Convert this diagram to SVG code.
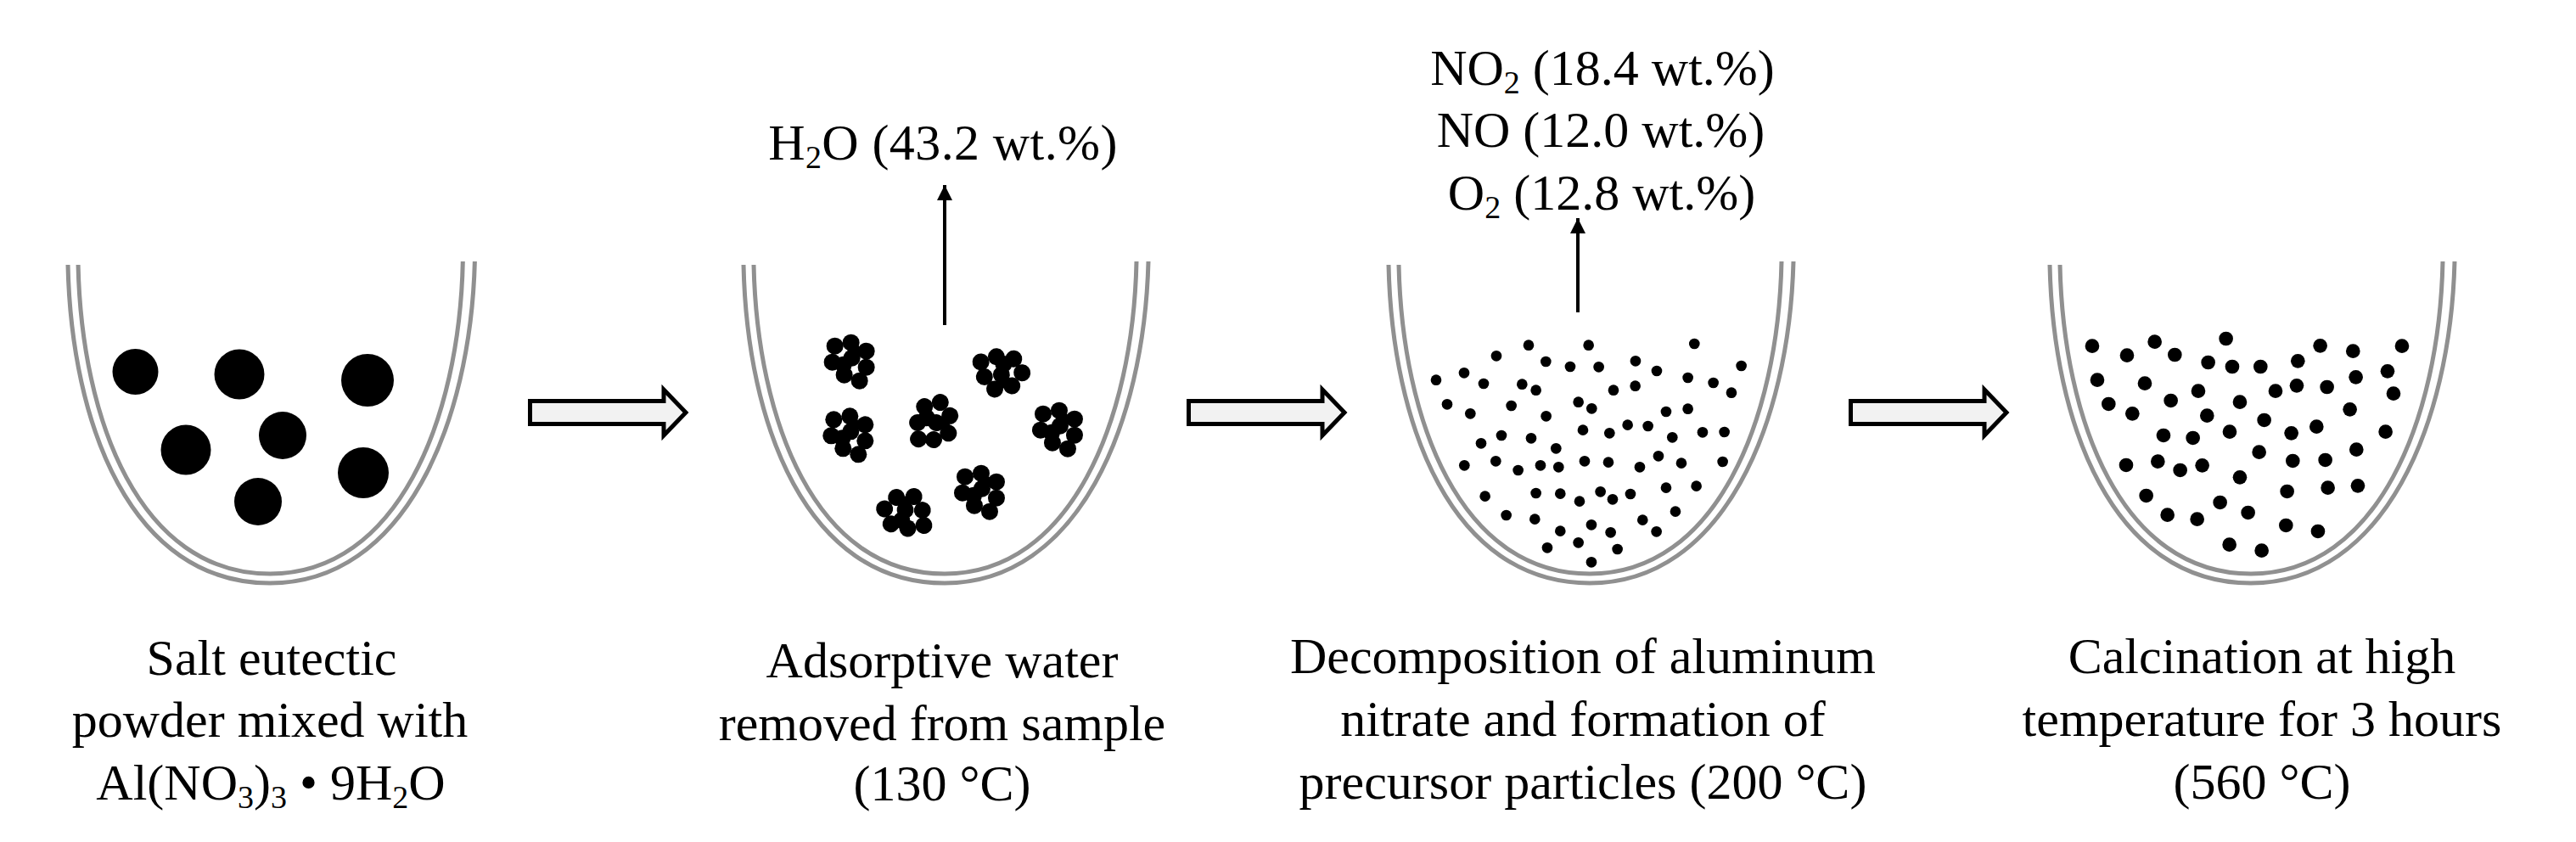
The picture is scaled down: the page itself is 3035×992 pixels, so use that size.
<svg xmlns="http://www.w3.org/2000/svg" width="3035" height="992" viewBox="0 0 3035 992">
<style>
text{font-family:"Liberation Serif","Times New Roman",serif;font-size:60px;fill:#000;text-anchor:middle}
.wall{fill:none;stroke:#909090;stroke-width:5}
.block{fill:#f2f2f2;stroke:#000;stroke-width:5}
.up{fill:none;stroke:#000;stroke-width:4;marker-end:url(#head)}
.d3 circle{r:19px}
.d4 circle{r:25px}
</style>
<defs>
<marker id="head" markerUnits="userSpaceOnUse" markerWidth="18" markerHeight="20" refX="18" refY="9" orient="auto"><path d="M0,0L18,9L0,18Z" fill="#000"/></marker>
<g id="beaker">
<path class="wall" d="M0,4C4,192 74,379 237,379C394,379 472,192 477,0"/>
<path class="wall" d="M12,4C16,187 84,368 237,368C386,368 459,187 463,0"/>
</g>
<g id="cluster">
<circle cx="-17" cy="-19" r="10"/><circle cx="2" cy="-23" r="10"/><circle cx="20" cy="-13" r="10"/><circle cx="20" cy="6" r="10"/><circle cx="12" cy="22" r="10"/><circle cx="-6" cy="15" r="10"/><circle cx="-20" cy="0" r="10"/><circle cx="3" cy="-5" r="10"/><circle cx="-7" cy="3" r="10"/><circle cx="10" cy="-13" r="6"/>
</g>
</defs>
<rect width="3035" height="992" fill="#fff"/>
<g id="connectors">
<path class="block" d="M624.500,472.500H782V459L808,486L782,513V499.500H624.500Z"/>
<path class="block" d="M1400.500,472.500H1558V459L1584,486L1558,513V499.500H1400.500Z"/>
<path class="block" d="M2180.500,472.500H2338V459L2364,486L2338,513V499.500H2180.500Z"/>
<path class="up" d="M1113,383V218"/>
<path class="up" d="M1859,368V257"/>
</g>
<g id="step1">
<use href="#beaker" transform="translate(80 308) scale(1.005 1)"/>
<circle cx="159.500" cy="438" r="27"/><circle cx="282" cy="441" r="29.500"/><circle cx="433" cy="448" r="31"/><circle cx="219" cy="530" r="29.500"/><circle cx="333" cy="513" r="28"/><circle cx="428" cy="557" r="30"/><circle cx="304" cy="591" r="28"/>
<text x="320" y="795">Salt eutectic</text>
<text x="318" y="868">powder mixed with</text>
<text x="319" y="942">Al(NO<tspan font-size="38" dy="10">3</tspan><tspan dy="-10">)</tspan><tspan font-size="38" dy="10">3</tspan><tspan dy="-10"> • 9H</tspan><tspan font-size="38" dy="10">2</tspan><tspan dy="-10">O</tspan></text>
</g>
<g id="step2">
<use href="#beaker" x="876" y="308"/>
<g transform="translate(860 290) scale(.3333)">
<use href="#cluster" transform="translate(422 410) scale(3)"/>
<use href="#cluster" transform="translate(957 437) rotate(140) scale(3)"/>
<use href="#cluster" transform="translate(418 670) scale(3)"/>
<use href="#cluster" transform="translate(712 622) rotate(66) scale(3)"/>
<use href="#cluster" transform="translate(1158 650) scale(3)"/>
<use href="#cluster" transform="translate(882 872) scale(3)"/>
<use href="#cluster" transform="translate(620 950) rotate(-32) scale(3)"/>
</g>
<text x="1111" y="188" letter-spacing=".4">H<tspan font-size="38" dy="10">2</tspan><tspan dy="-10">O (43.2 wt.%)</tspan></text>
<text x="1110" y="798">Adsorptive water</text>
<text x="1110" y="872">removed from sample</text>
<text x="1110" y="943">(130 °C)</text>
</g>
<g id="step3">
<use href="#beaker" x="1636" y="308"/>
<g class="d3" transform="translate(1620 300) scale(.3333)">
<circle cx="543" cy="320"/><circle cx="755" cy="320"/><circle cx="1129" cy="315"/><circle cx="429" cy="358"/><circle cx="604" cy="378"/><circle cx="690" cy="396"/><circle cx="791" cy="397"/><circle cx="921" cy="376"/><circle cx="1295" cy="393"/><circle cx="315" cy="418"/><circle cx="216" cy="443"/><circle cx="384" cy="456"/><circle cx="520" cy="458"/><circle cx="569" cy="479"/><circle cx="843" cy="479"/><circle cx="920" cy="464"/><circle cx="996" cy="411"/><circle cx="1106" cy="435"/><circle cx="1196" cy="453"/><circle cx="1260" cy="488"/><circle cx="255" cy="529"/><circle cx="337" cy="562"/><circle cx="482" cy="534"/><circle cx="605" cy="571"/><circle cx="719" cy="521"/><circle cx="766" cy="544"/><circle cx="1029" cy="555"/><circle cx="1106" cy="545"/><circle cx="893" cy="602"/><circle cx="965" cy="606"/><circle cx="735" cy="620"/><circle cx="829" cy="631"/><circle cx="1051" cy="646"/><circle cx="1158" cy="628"/><circle cx="1235" cy="627"/><circle cx="447" cy="639"/><circle cx="375" cy="667"/><circle cx="552" cy="649"/><circle cx="640" cy="685"/><circle cx="316" cy="745"/><circle cx="427" cy="730"/><circle cx="506" cy="762"/><circle cx="585" cy="745"/><circle cx="649" cy="751"/><circle cx="741" cy="730"/><circle cx="825" cy="734"/><circle cx="936" cy="751"/><circle cx="1002" cy="712"/><circle cx="1083" cy="737"/><circle cx="1229" cy="732"/><circle cx="389" cy="854"/><circle cx="569" cy="843"/><circle cx="655" cy="845"/><circle cx="723" cy="872"/><circle cx="797" cy="838"/><circle cx="840" cy="865"/><circle cx="903" cy="846"/><circle cx="1029" cy="824"/><circle cx="1136" cy="818"/><circle cx="464" cy="921"/><circle cx="565" cy="935"/><circle cx="655" cy="977"/><circle cx="765" cy="955"/><circle cx="833" cy="982"/><circle cx="946" cy="938"/><circle cx="1062" cy="908"/><circle cx="995" cy="979"/><circle cx="609" cy="1036"/><circle cx="719" cy="1018"/><circle cx="857" cy="1041"/><circle cx="765" cy="1087"/>
</g>
<text x="1888" y="100">NO<tspan font-size="38" dy="10">2</tspan><tspan dy="-10"> (18.4 wt.%)</tspan></text>
<text x="1886" y="173">NO (12.0 wt.%)</text>
<text x="1887" y="247">O<tspan font-size="38" dy="10">2</tspan><tspan dy="-10"> (12.8 wt.%)</tspan></text>
<text x="1865" y="793">Decomposition of aluminum</text>
<text x="1865" y="867">nitrate and formation of</text>
<text x="1865" y="941">precursor particles (200 °C)</text>
</g>
<g id="step4">
<use href="#beaker" x="2415" y="308"/>
<g class="d4" transform="translate(2400 300) scale(.3333)">
<circle cx="195" cy="323"/><circle cx="318" cy="356"/><circle cx="416" cy="308"/><circle cx="487" cy="354"/><circle cx="668" cy="297"/><circle cx="605" cy="381"/><circle cx="690" cy="396"/><circle cx="790" cy="396"/><circle cx="922" cy="376"/><circle cx="1001" cy="322"/><circle cx="1117" cy="341"/><circle cx="1290" cy="323"/><circle cx="213" cy="443"/><circle cx="381" cy="455"/><circle cx="570" cy="482"/><circle cx="843" cy="482"/><circle cx="918" cy="463"/><circle cx="1025" cy="468"/><circle cx="1127" cy="433"/><circle cx="1239" cy="412"/><circle cx="1260" cy="491"/><circle cx="253" cy="528"/><circle cx="337" cy="562"/><circle cx="473" cy="516"/><circle cx="601" cy="569"/><circle cx="717" cy="521"/><circle cx="1106" cy="547"/><circle cx="803" cy="585"/><circle cx="988" cy="608"/><circle cx="899" cy="631"/><circle cx="1232" cy="626"/><circle cx="447" cy="639"/><circle cx="551" cy="648"/><circle cx="681" cy="626"/><circle cx="785" cy="698"/><circle cx="1129" cy="689"/><circle cx="315" cy="744"/><circle cx="427" cy="731"/><circle cx="506" cy="762"/><circle cx="584" cy="745"/><circle cx="904" cy="729"/><circle cx="1019" cy="726"/><circle cx="717" cy="787"/><circle cx="884" cy="837"/><circle cx="1028" cy="824"/><circle cx="1134" cy="817"/><circle cx="386" cy="852"/><circle cx="647" cy="876"/><circle cx="461" cy="920"/><circle cx="566" cy="935"/><circle cx="746" cy="912"/><circle cx="880" cy="957"/><circle cx="993" cy="978"/><circle cx="680" cy="1025"/><circle cx="794" cy="1046"/>
</g>
<text x="2665" y="793">Calcination at high</text>
<text x="2665" y="867">temperature for 3 hours</text>
<text x="2665" y="941">(560 °C)</text>
</g>
</svg>
